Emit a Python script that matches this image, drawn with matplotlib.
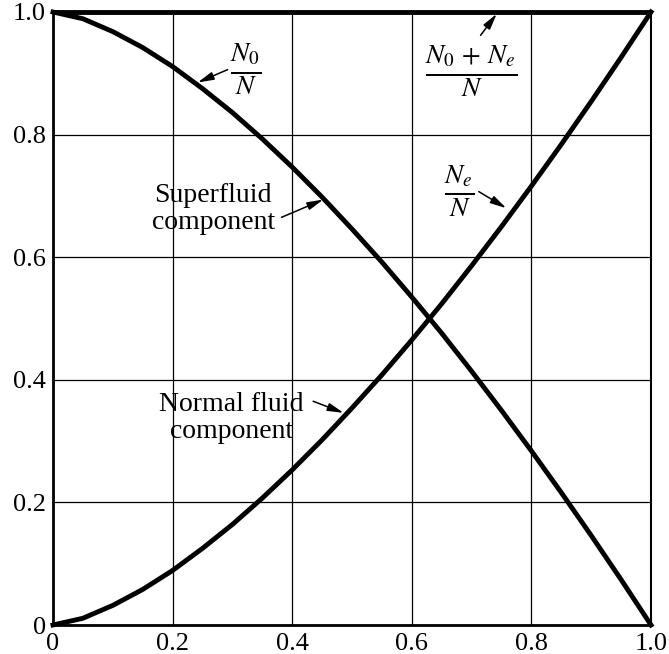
import matplotlib
matplotlib.use("Agg")
import matplotlib.pyplot as plt

# Data
t = [0.0, 0.05, 0.10, 0.15, 0.20, 0.25, 0.30, 0.35, 0.40, 0.45, 0.50,
     0.55, 0.60, 0.65, 0.70, 0.75, 0.80, 0.85, 0.90, 0.95, 1.0]
normal = [0.0, 0.011, 0.032, 0.058, 0.089, 0.125, 0.164, 0.207, 0.253, 0.302, 0.354,
          0.408, 0.465, 0.524, 0.586, 0.650, 0.716, 0.784, 0.854, 0.926, 1.0]
superfluid = [1.0, 0.989, 0.968, 0.942, 0.911, 0.875, 0.836, 0.793, 0.747, 0.698, 0.646,
              0.592, 0.535, 0.476, 0.414, 0.350, 0.284, 0.216, 0.146, 0.074, 0.0]
total = [1.0] * len(t)

xticks = [0, 0.2, 0.4, 0.6, 0.8, 1.0]
xticklabels = ["0", "0.2", "0.4", "0.6", "0.8", "1.0"]
yticks = [0, 0.2, 0.4, 0.6, 0.8, 1.0]
yticklabels = ["0", "0.2", "0.4", "0.6", "0.8", "1.0"]

plt.rcParams['font.family'] = ['Liberation Serif', 'DejaVu Serif']
plt.rcParams['mathtext.fontset'] = 'stix'

fig = plt.figure(figsize=(6.69, 6.54), dpi=100)
ax = fig.add_axes([53/669, 1-625/654, 598/669, 613/654])

ax.plot(t, total, color='black', lw=3.5, clip_on=False, solid_capstyle='butt')
ax.plot(t, superfluid, color='black', lw=3.5, clip_on=False)
ax.plot(t, normal, color='black', lw=3.5, clip_on=False)

ax.set_xlim(0, 1)
ax.set_ylim(0, 1)
ax.set_xticks(xticks)
ax.set_xticklabels(xticklabels)
ax.set_yticks(yticks)
ax.set_yticklabels(yticklabels)
ax.tick_params(length=0, labelsize=19)
ax.tick_params(axis='y', pad=5)
ax.tick_params(axis='x', pad=6)
ax.grid(True, color='black', lw=0.9)
for s in ['left', 'bottom']:
    ax.spines[s].set_linewidth(2.0)
ax.spines['right'].set_linewidth(1.5)
ax.spines['top'].set_visible(False)

arrow = dict(arrowstyle='-|>,head_length=0.8,head_width=0.2', color='black', lw=1.1,
             mutation_scale=12, shrinkA=0, shrinkB=0)
tfs = 20
mfs = 28

ax.annotate('', xy=(0.242, 0.885), xytext=(0.292, 0.906), arrowprops=arrow)
ax.text(0.322, 0.906, r'$\frac{N_0}{N}$', fontsize=mfs, ha='center', va='center')

ax.annotate('', xy=(0.452, 0.694), xytext=(0.382, 0.665), arrowprops=arrow)
ax.text(0.268, 0.678, 'Superfluid\ncomponent', fontsize=tfs, ha='center', va='center',
        linespacing=1.1)

ax.annotate('', xy=(0.486, 0.346), xytext=(0.435, 0.365), arrowprops=arrow)
ax.text(0.298, 0.338, 'Normal fluid\ncomponent', fontsize=tfs, ha='center', va='center',
        linespacing=1.1)

ax.annotate('', xy=(0.758, 0.680), xytext=(0.712, 0.707), arrowprops=arrow)
ax.text(0.68, 0.707, r'$\frac{N_e}{N}$', fontsize=mfs, ha='center', va='center')

ax.annotate('', xy=(0.742, 0.997), xytext=(0.715, 0.962), arrowprops=arrow)
ax.text(0.70, 0.904, r'$\frac{N_0\,+\,N_e}{N}$', fontsize=mfs, ha='center', va='center')

fig.savefig('out.png', dpi=100)
